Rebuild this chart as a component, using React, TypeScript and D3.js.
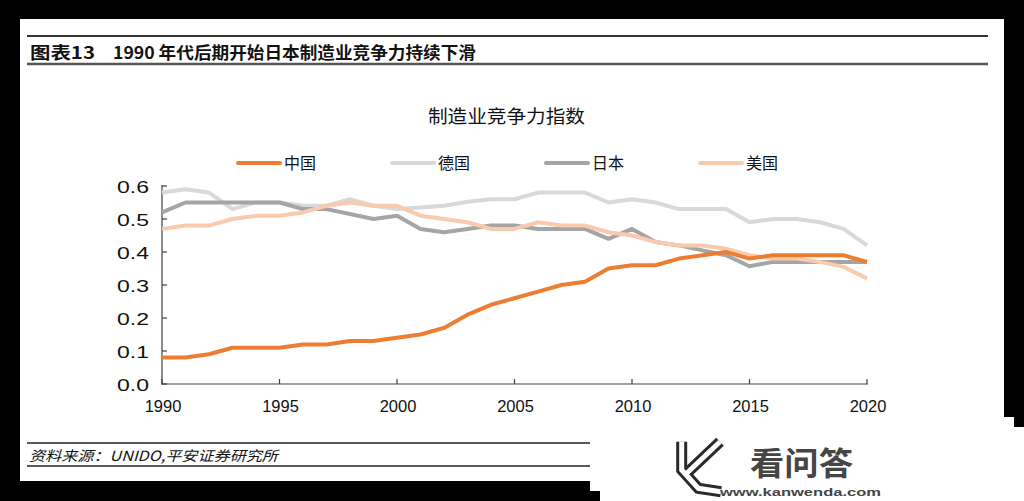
import React from "react";
import * as d3 from "d3";

const years = [1990,1991,1992,1993,1994,1995,1996,1997,1998,1999,2000,2001,2002,2003,2004,2005,2006,2007,2008,2009,2010,2011,2012,2013,2014,2015,2016,2017,2018,2019,2020];
const china = [0.08,0.08,0.09,0.11,0.11,0.11,0.12,0.12,0.13,0.13,0.14,0.15,0.17,0.21,0.24,0.26,0.28,0.30,0.31,0.35,0.36,0.36,0.38,0.39,0.40,0.38,0.39,0.39,0.39,0.39,0.37];
const germany = [0.58,0.59,0.58,0.53,0.55,0.55,0.54,0.54,0.56,0.54,0.53,0.535,0.54,0.552,0.56,0.56,0.58,0.58,0.58,0.55,0.56,0.55,0.53,0.53,0.53,0.49,0.50,0.50,0.49,0.47,0.42];
const japan = [0.52,0.55,0.55,0.55,0.55,0.55,0.53,0.53,0.515,0.50,0.51,0.47,0.46,0.47,0.48,0.48,0.47,0.47,0.47,0.44,0.47,0.43,0.42,0.405,0.39,0.357,0.37,0.37,0.37,0.37,0.37];
const usa = [0.47,0.48,0.48,0.50,0.51,0.51,0.52,0.54,0.55,0.54,0.54,0.51,0.50,0.49,0.47,0.47,0.49,0.48,0.48,0.46,0.45,0.43,0.42,0.42,0.41,0.39,0.38,0.38,0.37,0.355,0.32];

const yTicks = [0, 0.1, 0.2, 0.3, 0.4, 0.5, 0.6];
const xTicks = [1990, 1995, 2000, 2005, 2010, 2015, 2020];

const seriesNames = ["中国", "德国", "日本", "美国"];
const seriesColors = ["#ed7d31", "#d9d9d9", "#a5a5a5", "#f8cbad"];
const seriesData = [china, germany, japan, usa];
const drawOrder = [1, 2, 3, 0];

const figTitleA = "图表13";
const figTitleB = "1990 年代后期开始日本制造业竞争力持续下滑";
const chartTitle = "制造业竞争力指数";
const sourceText = "资料来源：UNIDO,平安证券研究所";

export default function App() {
  const x = d3.scaleLinear().domain([1990, 2020]).range([162, 867]);
  const y = d3.scaleLinear().domain([0, 0.6]).range([384, 186]);
  const line = d3
    .line<number>()
    .x((_, i) => x(years[i]))
    .y((d) => y(d));

  const cjk = "'Noto Sans CJK SC', 'Noto Sans', sans-serif";
  const num = "'Liberation Sans', Arial, sans-serif";

  return (
    <svg
      width={1024}
      height={501}
      style={{ position: "absolute", left: 0, top: 0 }}
    >
      <rect x={0} y={0} width={1024} height={501} fill="#000" />
      <rect x={20} y={19} width={984} height={462} fill="#fff" />
      {/* watermark block */}
      <rect x={590} y={427} width={434} height={64} fill="#fff" />
      <rect x={600} y={427} width={424} height={74} fill="#fff" />
      <rect x={1004} y={417} width={10} height={12} fill="#fff" />

      {/* figure title */}
      <line x1={27} x2={988} y1={36} y2={36} stroke="#333" strokeWidth={2} />
      <line x1={27} x2={988} y1={64} y2={64} stroke="#555" strokeWidth={2.5} />
      <text x={30} y={59} fontFamily={cjk} fontWeight="bold" fontSize={16.5} fill="#111" textLength={65} lengthAdjust="spacingAndGlyphs">{figTitleA}</text>
      <text x={113} y={59} fontFamily={cjk} fontWeight="bold" fontSize={16.5} fill="#111" textLength={363} lengthAdjust="spacingAndGlyphs">{figTitleB}</text>

      {/* chart title */}
      <text x={428} y={123} fontFamily={cjk} fontSize={18} fill="#111" textLength={157} lengthAdjust="spacingAndGlyphs">{chartTitle}</text>

      {/* legend */}
      {seriesNames.map((n, i) => {
        const lx = 238 + i * 154;
        return (
          <g key={n}>
            <line x1={lx} x2={lx + 42} y1={163} y2={163} stroke={seriesColors[i]} strokeWidth={4} strokeLinecap="round" />
            <text x={lx + 46} y={169} fontFamily={cjk} fontSize={16} fill="#111">{n}</text>
          </g>
        );
      })}

      {/* axes */}
      <line x1={162} x2={162} y1={185} y2={384.5} stroke="#404040" strokeWidth={1.2} />
      <line x1={161.5} x2={868} y1={384} y2={384} stroke="#404040" strokeWidth={1.2} />
      {yTicks.map((t) => (
        <g key={t}>
          <line x1={162} x2={167} y1={y(t)} y2={y(t)} stroke="#404040" strokeWidth={1.2} />
          <text x={149} y={y(t) + 6.5} textAnchor="end" fontFamily={num} fontSize={16.5} fill="#111" textLength={32} lengthAdjust="spacingAndGlyphs">{t.toFixed(1)}</text>
        </g>
      ))}
      {xTicks.map((t) => (
        <g key={t}>
          <line x1={x(t)} x2={x(t)} y1={384} y2={379} stroke="#404040" strokeWidth={1.2} />
          <text x={x(t) + 1} y={411.5} textAnchor="middle" fontFamily={num} fontSize={16.5} fill="#111">{t}</text>
        </g>
      ))}

      {/* series */}
      {drawOrder.map((i) => (
        <path key={i} d={line(seriesData[i]) || ""} fill="none" stroke={seriesColors[i]} strokeWidth={4} strokeLinejoin="round" />
      ))}

      {/* source */}
      <line x1={27} x2={590} y1={443} y2={443} stroke="#222" strokeWidth={1.5} />
      <line x1={27} x2={590} y1={466} y2={466} stroke="#222" strokeWidth={1.5} />
      <text x={29} y={461} fontFamily={cjk} fontStyle="italic" fontSize={14} fill="#111" textLength={249} lengthAdjust="spacingAndGlyphs">{sourceText}</text>

      {/* watermark logo */}
      <g fill="none" strokeLinejoin="miter">
        <path d="M681.7,441.7 L681.7,470 L698.3,488.3 L721,491.7" stroke="#2a2a2a" strokeWidth={11} />
        <path d="M720,441.7 L686.7,473.3" stroke="#2a2a2a" strokeWidth={11} />
        <path d="M681.7,441.7 L681.7,470 L698.3,488.3 L721,491.7" stroke="#fff" strokeWidth={5} />
        <path d="M720,441.7 L686.7,473.3" stroke="#fff" strokeWidth={5} />
      </g>
      <text x={750} y={475} fontFamily={cjk} fontWeight="bold" fontSize={32} fill="#454545" textLength={103} lengthAdjust="spacingAndGlyphs">看问答</text>
      <text x={720} y={496} fontFamily={num} fontWeight="bold" fontSize={11.5} fill="#454545" textLength={161} lengthAdjust="spacingAndGlyphs">www.kanwenda.com</text>
    </svg>
  );
}
